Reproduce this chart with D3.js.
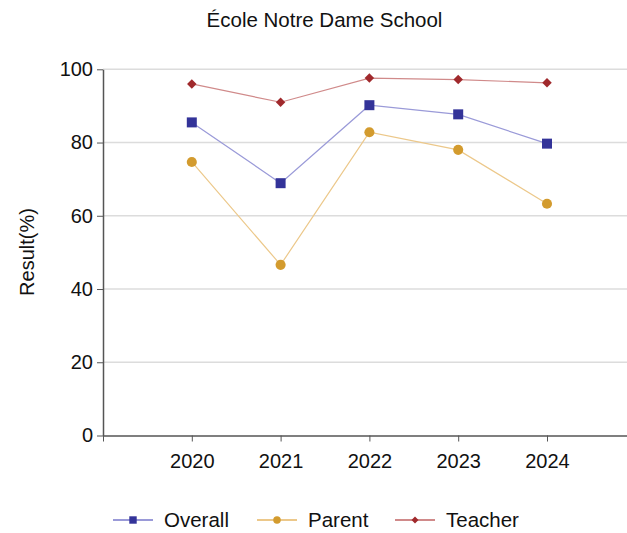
<!DOCTYPE html>
<html>
<head>
<meta charset="utf-8">
<script src="https://cdn.jsdelivr.net/npm/d3@7"></script>
<style>
  html, body { margin: 0; padding: 0; background: #fff; }
  svg { display: block; font-family: "Liberation Sans", Arial, sans-serif; }
</style>
</head>
<body>
<svg id="chart" width="627" height="533"></svg>
<script>
// School survey results by year
const years = [2020, 2021, 2022, 2023, 2024];
const overall = [85.5, 68.9, 90.2, 87.7, 79.7];
const parent = [74.7, 46.6, 82.8, 78.0, 63.3];
const teacher = [96.0, 91.0, 97.6, 97.2, 96.3];
const yTicks = [0, 20, 40, 60, 80, 100];
const seriesNames = ["Overall", "Parent", "Teacher"];

// Diamond = square turned 45 degrees
const series = [
  { name: seriesNames[0], values: overall, line: "#9a9ad8", mark: "#333399", shape: d3.symbolSquare, size: 100, rot: 0 },
  { name: seriesNames[1], values: parent, line: "#ecc88a", mark: "#d39b2e", shape: d3.symbolCircle, size: 80, rot: 0 },
  { name: seriesNames[2], values: teacher, line: "#d08a8a", mark: "#a0292c", shape: d3.symbolSquare, size: 45, rot: 45 }
];

const W = 627, H = 533;
const plotLeft = 103, plotTop = 69.3, plotBottom = 435.5;
const fontSize = 20;

const svg = d3.select("#chart");

const x = d3.scaleLinear().domain([2019, 2025]).range([plotLeft, plotLeft + 6 * 88.8]);
const y = d3.scaleLinear().domain([0, 100]).range([plotBottom, plotTop]);

// Title
svg.append("text")
  .attr("x", 324.5).attr("y", 27)
  .attr("text-anchor", "middle")
  .attr("font-size", 20.5).attr("fill", "#111")
  .text("École Notre Dame School");

// Horizontal gridlines
svg.append("g")
  .selectAll("line")
  .data(yTicks.filter(t => t > 0))
  .join("line")
  .attr("x1", plotLeft).attr("x2", W)
  .attr("y1", d => y(d)).attr("y2", d => y(d))
  .attr("stroke", "#dcdcdc").attr("stroke-width", 1.5);

// Y axis
const yAxis = svg.append("g")
  .attr("transform", `translate(${plotLeft},0)`)
  .call(d3.axisLeft(y).tickValues(yTicks).tickSize(6).tickPadding(4).tickSizeOuter(0));
yAxis.select(".domain").attr("stroke", "#555").attr("stroke-width", 1.5);
yAxis.selectAll(".tick line").attr("stroke", "#555").attr("stroke-width", 1);
yAxis.selectAll(".tick text").attr("font-size", fontSize).attr("fill", "#111")
  .attr("font-family", "Liberation Sans, Arial, sans-serif");

// X axis
const xAxis = svg.append("g")
  .attr("transform", `translate(0,${plotBottom})`)
  .call(d3.axisBottom(x).tickValues([2019].concat(years)).tickSize(6).tickPadding(12)
    .tickSizeOuter(0).tickFormat(d => d === 2019 ? "" : String(d)));
xAxis.select(".domain").attr("stroke", "#555").attr("stroke-width", 1.5);
xAxis.selectAll(".tick line").attr("stroke", "#555").attr("stroke-width", 1);
xAxis.selectAll(".tick text").attr("font-size", fontSize).attr("fill", "#111")
  .attr("font-family", "Liberation Sans, Arial, sans-serif");

// Y axis label
svg.append("text")
  .attr("transform", `translate(34,252) rotate(-90)`)
  .attr("text-anchor", "middle")
  .attr("font-size", fontSize).attr("fill", "#111")
  .text("Result(%)");

// Series lines and markers
const line = d3.line().x((d, i) => x(years[i])).y(d => y(d));
series.forEach(s => {
  svg.append("path")
    .datum(s.values)
    .attr("d", line)
    .attr("fill", "none")
    .attr("stroke", s.line)
    .attr("stroke-width", 1.2);
  svg.append("g")
    .selectAll("path")
    .data(s.values)
    .join("path")
    .attr("transform", (d, i) => `translate(${x(years[i])},${y(d)}) rotate(${s.rot})`)
    .attr("d", d3.symbol().type(s.shape).size(s.size))
    .attr("fill", s.mark);
});

// Legend
const legendX = [113, 257, 395];
const legendY = 520;
series.forEach((s, i) => {
  const g = svg.append("g").attr("transform", `translate(${legendX[i]},${legendY})`);
  g.append("line").attr("x1", 0).attr("x2", 40).attr("y1", 0).attr("y2", 0)
    .attr("stroke", s.line).attr("stroke-width", 2);
  g.append("path").attr("transform", `translate(20,0) rotate(${s.rot})`)
    .attr("d", d3.symbol().type(s.shape).size(s.size * 0.55))
    .attr("fill", s.mark);
  g.append("text").attr("x", 51).attr("y", 0).attr("dy", "0.35em")
    .attr("font-size", 20.5).attr("fill", "#111")
    .text(s.name);
});
</script>
</body>
</html>
